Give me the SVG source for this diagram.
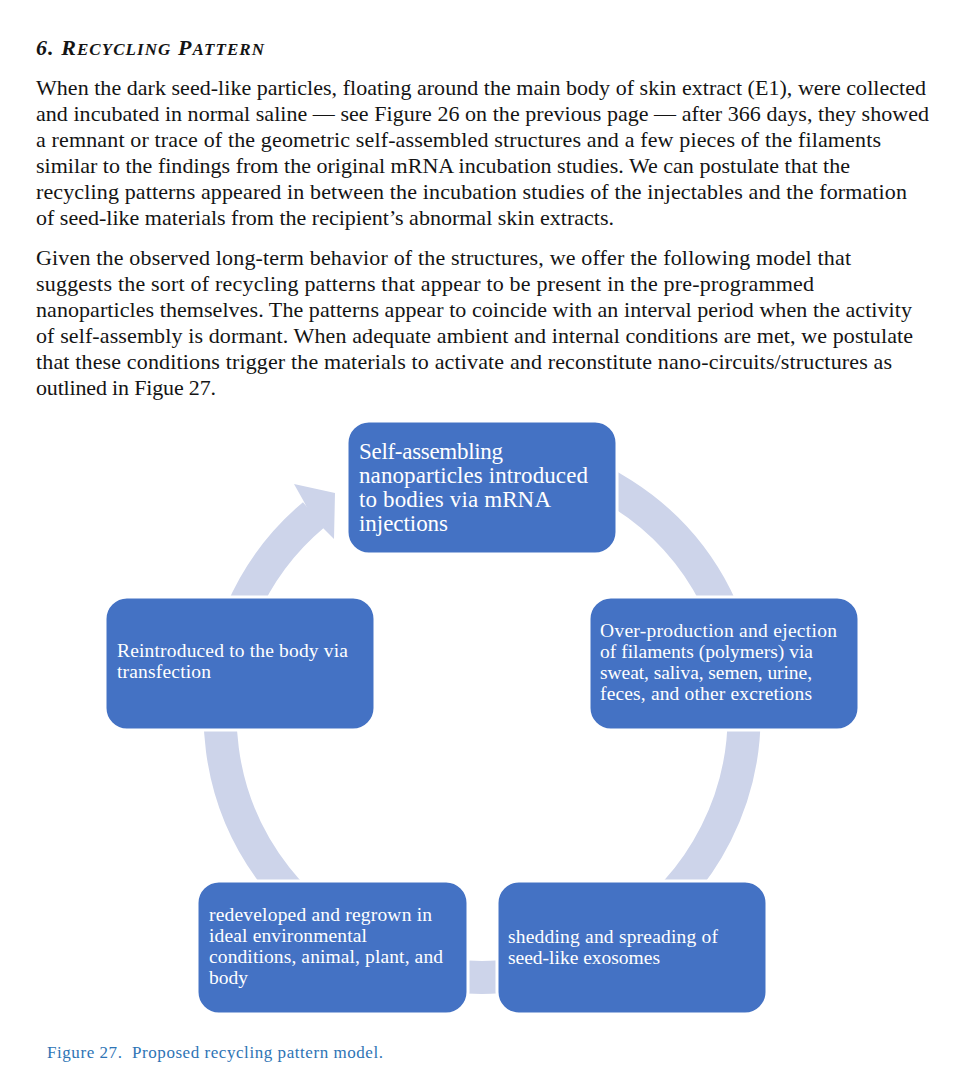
<svg xmlns="http://www.w3.org/2000/svg" width="953" height="1090" viewBox="0 0 953 1090">
<style>
.body{font-family:"Liberation Serif","Times New Roman",serif;font-size:22px;fill:#141414}
.head{font-family:"Liberation Serif","Times New Roman",serif;font-size:22px;font-weight:bold;font-style:italic;fill:#141414}
.sc{font-size:17px}
.box{fill:#4472C4;stroke:#ffffff;stroke-width:3}
.lbl{font-family:"Liberation Serif","Times New Roman",serif;font-size:19.5px;fill:#ffffff}
.lblbig{font-family:"Liberation Serif","Times New Roman",serif;font-size:23px;fill:#ffffff}
.cap{font-family:"Liberation Serif","Times New Roman",serif;font-size:17px;fill:#2E74B5}
.ring{fill:none;stroke:#CDD4EA;stroke-width:33}
.head-arrow{fill:#CDD4EA}
</style>
<rect width="953" height="1090" fill="#ffffff"/>
<text class="head" x="36" y="55" textLength="228" lengthAdjust="spacing">6. R<tspan class="sc">ECYCLING</tspan> P<tspan class="sc">ATTERN</tspan></text>
<g id="paragraph1">
<text class="body" x="36" y="95" textLength="890" lengthAdjust="spacing">When the dark seed-like particles, floating around the main body of skin extract (E1), were collected</text>
<text class="body" x="36" y="121" textLength="893" lengthAdjust="spacing">and incubated in normal saline — see Figure 26 on the previous page — after 366 days, they showed</text>
<text class="body" x="36" y="147" textLength="845" lengthAdjust="spacing">a remnant or trace of the geometric self-assembled structures and a few pieces of the filaments</text>
<text class="body" x="36" y="173" textLength="814" lengthAdjust="spacing">similar to the findings from the original mRNA incubation studies. We can postulate that the</text>
<text class="body" x="36" y="199" textLength="871" lengthAdjust="spacing">recycling patterns appeared in between the incubation studies of the injectables and the formation</text>
<text class="body" x="36" y="225" textLength="578" lengthAdjust="spacing">of seed-like materials from the recipient’s abnormal skin extracts.</text>
</g>
<g id="paragraph2">
<text class="body" x="36" y="265" textLength="815" lengthAdjust="spacing">Given the observed long-term behavior of the structures, we offer the following model that</text>
<text class="body" x="36" y="291" textLength="778" lengthAdjust="spacing">suggests the sort of recycling patterns that appear to be present in the pre-programmed</text>
<text class="body" x="36" y="317" textLength="876" lengthAdjust="spacing">nanoparticles themselves. The patterns appear to coincide with an interval period when the activity</text>
<text class="body" x="36" y="343" textLength="877" lengthAdjust="spacing">of self-assembly is dormant. When adequate ambient and internal conditions are met, we postulate</text>
<text class="body" x="36" y="369" textLength="856" lengthAdjust="spacing">that these conditions trigger the materials to activate and reconstitute nano-circuits/structures as</text>
<text class="body" x="36" y="395" textLength="180" lengthAdjust="spacing">outlined in Figue 27.</text>
</g>
<g id="connectors">
<path class="ring" d="M 371.3 478.0 A 262 262 0 1 1 313.6 514.8"/>
<polygon class="head-arrow" points="294,484 335,493 334,539 312,517 303,500"/>
</g>
<g id="node-top">
<rect class="box" x="347" y="421" width="270" height="133" rx="22"/>
<text class="lblbig" x="359" y="459" textLength="144" lengthAdjust="spacing">Self-assembling</text>
<text class="lblbig" x="359" y="483" textLength="229" lengthAdjust="spacing">nanoparticles introduced</text>
<text class="lblbig" x="359" y="507" textLength="192" lengthAdjust="spacing">to bodies via mRNA</text>
<text class="lblbig" x="359" y="531" textLength="89" lengthAdjust="spacing">injections</text>
</g>
<g id="node-right">
<rect class="box" x="589" y="597" width="270" height="133" rx="22"/>
<text class="lbl" x="600" y="637" textLength="237" lengthAdjust="spacing">Over-production and ejection</text>
<text class="lbl" x="600" y="658" textLength="213" lengthAdjust="spacing">of filaments (polymers) via</text>
<text class="lbl" x="600" y="679" textLength="212" lengthAdjust="spacing">sweat, saliva, semen, urine,</text>
<text class="lbl" x="600" y="700" textLength="212" lengthAdjust="spacing">feces, and other excretions</text>
</g>
<g id="node-bottom-right">
<rect class="box" x="497" y="881" width="270" height="133" rx="22"/>
<text class="lbl" x="508" y="943" textLength="210" lengthAdjust="spacing">shedding and spreading of</text>
<text class="lbl" x="508" y="964" textLength="152" lengthAdjust="spacing">seed-like exosomes</text>
</g>
<g id="node-bottom-left">
<rect class="box" x="197" y="881" width="271" height="133" rx="22"/>
<text class="lbl" x="209" y="921" textLength="223" lengthAdjust="spacing">redeveloped and regrown in</text>
<text class="lbl" x="209" y="942" textLength="158" lengthAdjust="spacing">ideal environmental</text>
<text class="lbl" x="209" y="963" textLength="234" lengthAdjust="spacing">conditions, animal, plant, and</text>
<text class="lbl" x="209" y="984" textLength="39" lengthAdjust="spacing">body</text>
</g>
<g id="node-left">
<rect class="box" x="105" y="597" width="270" height="133" rx="22"/>
<text class="lbl" x="117" y="657" textLength="231" lengthAdjust="spacing">Reintroduced to the body via</text>
<text class="lbl" x="117" y="678" textLength="94" lengthAdjust="spacing">transfection</text>
</g>
<text class="cap" x="47" y="1058" textLength="336" lengthAdjust="spacing">Figure 27.&#160; Proposed recycling pattern model.</text>
</svg>
